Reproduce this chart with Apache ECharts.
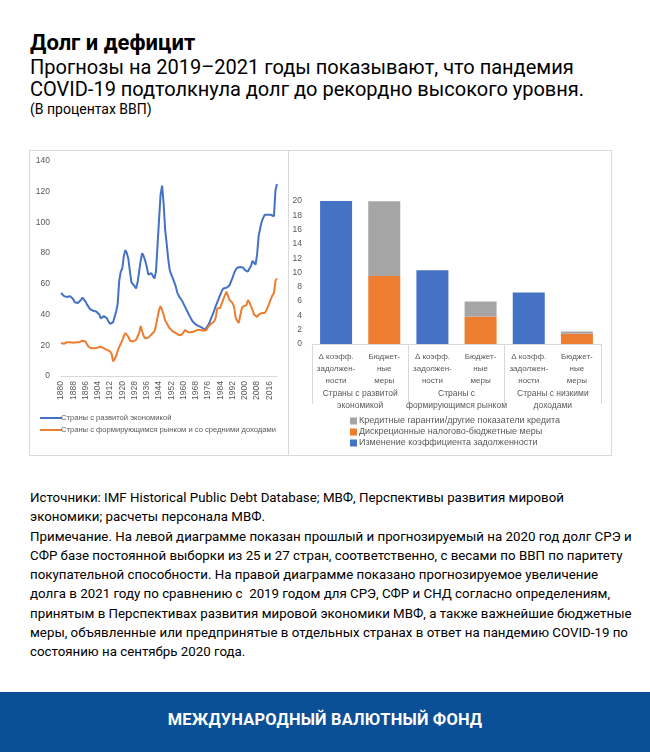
<!DOCTYPE html>
<html><head><meta charset="utf-8">
<script src="https://cdn.jsdelivr.net/npm/echarts@6/dist/echarts.min.js"></script>
<style>
html,body{margin:0;padding:0;background:#fff;width:650px;height:752px;overflow:hidden;font-family:Roboto,"Noto Sans",sans-serif;}
.t{position:absolute;left:30px;color:#000;white-space:nowrap;}
#title{top:30px;font-size:22px;font-weight:bold;line-height:26px;}
#sub{top:56px;font-size:20px;line-height:22px;}
#unit{top:100px;font-size:14px;line-height:18px;}
#notes{top:488px;font-size:13.3px;line-height:19.25px;}
.panel{position:absolute;border:1px solid #d9d9d9;box-sizing:border-box;}
#footer{position:absolute;left:0;top:692px;width:650px;height:60px;background:#0b4f96;color:#fff;font-weight:bold;font-size:16.4px;letter-spacing:0.2px;text-align:center;line-height:56px;}
#chart{position:absolute;left:0;top:0;width:650px;height:752px;}
</style></head>
<body>
<div class="t" id="title">Долг и дефицит</div>
<div class="t" id="sub">Прогнозы на 2019–2021 годы показывают, что пандемия<br>COVID-19 подтолкнула долг до рекордно высокого уровня.</div>
<div class="t" id="unit">(В процентах ВВП)</div>
<div class="panel" style="left:29px;top:150px;width:260px;height:306px;"></div>
<div class="panel" style="left:288px;top:150px;width:324px;height:306px;"></div>
<div class="t" id="notes">Источники: IMF Historical Public Debt Database; МВФ, Перспективы развития мировой<br>экономики; расчеты персонала МВФ.<br>Примечание. На левой диаграмме показан прошлый и прогнозируемый на 2020 год долг СРЭ и<br>СФР базе постоянной выборки из 25 и 27 стран, соответственно, с весами по ВВП по паритету<br>покупательной способности. На правой диаграмме показано прогнозируемое увеличение<br>долга в 2021 году по сравнению с&nbsp; 2019 годом для СРЭ, СФР и СНД согласно определениям,<br>принятым в Перспективах развития мировой экономики МВФ, а также важнейшие бюджетные<br>меры, объявленные или предпринятые в отдельных странах в ответ на пандемию COVID-19 по<br>состоянию на сентябрь 2020 года.</div>
<div id="footer">МЕЖДУНАРОДНЫЙ ВАЛЮТНЫЙ ФОНД</div>
<div id="chart"></div>
<script>
// ---- Left chart data (1880–2021, % of GDP)
var years = [];
for (var y = 1880; y <= 2021; y++) years.push(String(y));
var advancedName = 'Страны с развитой экономикой';
var emergingName = 'Страны с формирующимся рынком и со средними доходами';
var advanced = [
54,55,52,51.5,51.5,52,52,52.5,50,48,
48,47.5,48,49.5,51,50,48.5,46.5,45,43.5,
43,42.5,42,42,41,40,37.5,38.5,39,38,
37.5,35.5,34,33.5,35,38.5,42,47,62,68,
70,78,82,80,76,68,61,60,58.5,57,
61,68,75,80,78,75,71,66,66,67,
65,63.5,68,85,102,118,124,112,95,86,
76,69,66,63.5,61,58,54,52,50.5,49,
47,45,43,41,39,37,35.5,34.5,33.5,33,
32.5,32,31.5,31,30,31.5,33,35,37.5,40,
42.5,45.5,48,50.5,53,55.5,57,58,57.5,58,
59,60,64,67,69,70.5,71,71,70.5,70.5,
69,68,68,70,71.5,75,74,72.5,79,91,
96,100.5,103,105,105.5,105,105,105,104,104,
121,125];
var emerging = [
21.5,22,21,21.5,22,23,22,22,21.7,22,
22,22,22,22.5,23,24,22.5,20.5,19,18.5,
18,18,18,18,18.5,19.5,19,18,18,17.5,
17,16.5,16,14.5,9.5,11,13,16.5,19,21,
23,26,28,27,25.5,23,22,22.5,23,23.5,
24.5,28,32.5,29,26,24.5,24,25,26,27,
27.5,29,33,38,43,45.5,46,40,36,34.5,
32.5,31,30,29,28.5,28,27,26.5,26.5,27,
27.5,30,30.5,28.5,28.5,28.5,29,29,29.5,30,
30,30,30,29.5,28.5,30,32,33,34,35,
35.5,38,44,45,44.5,45,50,52.5,55,55.5,
49.5,48.5,47.5,45,38,36,34.5,34,44,45.5,
45,46,49.5,48,45.5,43,40,39.5,38.5,40,
41,41,40.5,41,42.5,45,47.5,50,52.5,54,
62,63.5];
var leftYTicks = {min: 0, max: 140, interval: 20};

// ---- Right chart data (change 2019–2021, % of GDP)
var subCategories = ['Δ коэфф.\nзадолжен-\nности', 'Бюджет-\nные\nмеры', 'Δ коэфф.\nзадолжен-\nности', 'Бюджет-\nные\nмеры', 'Δ коэфф.\nзадолжен-\nности', 'Бюджет-\nные\nмеры'];
var groups = ['Страны с развитой\nэкономикой', 'Страны с\nформирующимся рынком', 'Страны с низкими\nдоходами'];
var debtChangeName = 'Изменение коэффициента задолженности';
var discretionaryName = 'Дискреционные налогово-бюджетные меры';
var creditName = 'Кредитные гарантии/другие показатели кредита';
var debtChange = [20.0, '-', 10.3, '-', 7.2, '-'];
var discretionary = ['-', 9.5, '-', 3.85, '-', 1.45];
var credit = ['-', 10.45, '-', 2.1, '-', 0.3];
var rightYTicks = {min: 0, max: 20, interval: 2};

var BLUE = '#4472c4', ORANGE = '#ed7d31', GRAY = '#a5a5a5', TXT = '#595959', AX = '#d9d9d9';
var FONT = '"Liberation Sans", Arial, sans-serif';

var chart = echarts.init(document.getElementById('chart'), null, {renderer: 'canvas'});
chart.setOption({
  backgroundColor: 'transparent',
  animation: false,
  textStyle: {fontFamily: FONT},
  grid: [
    {left: 61, top: 161, width: 216, height: 215},
    {left: 312, top: 201, width: 289, height: 143}
  ],
  legend: [
    {
      data: [advancedName, emergingName],
      orient: 'vertical', left: 35, top: 408, itemGap: 2,
      icon: 'rect', itemWidth: 22, itemHeight: 2,
      textStyle: {fontSize: 7.6, color: TXT, fontFamily: FONT, padding: [0, 0, 0, -6], lineHeight: 10}
    },
    {
      data: [creditName, discretionaryName, debtChangeName],
      orient: 'vertical', left: 345, top: 411, itemGap: 1,
      icon: 'rect', itemWidth: 7, itemHeight: 7,
      textStyle: {fontSize: 9, color: TXT, fontFamily: FONT, padding: [0, 0, 0, -3], lineHeight: 10}
    }
  ],
  xAxis: [
    {
      gridIndex: 0, type: 'category', data: years, boundaryGap: false,
      axisLine: {lineStyle: {color: AX}}, axisTick: {show: false},
      axisLabel: {rotate: 90, interval: 7, fontSize: 8.5, color: TXT, margin: 5}
    },
    {
      gridIndex: 1, type: 'category', data: subCategories,
      axisLine: {lineStyle: {color: AX}}, axisTick: {show: false},
      axisLabel: {interval: 0, fontSize: 8, color: TXT, margin: 7, lineHeight: 12}
    },
    {
      gridIndex: 1, type: 'category', data: groups, position: 'bottom',
      axisLine: {show: false},
      axisTick: {show: true, length: 60, lineStyle: {color: AX}},
      axisLabel: {interval: 0, fontSize: 8.5, color: TXT, margin: 44, lineHeight: 12}
    }
  ],
  yAxis: [
    {
      gridIndex: 0, type: 'value', min: leftYTicks.min, max: leftYTicks.max, interval: leftYTicks.interval,
      axisLine: {show: false}, axisTick: {show: false}, splitLine: {show: false},
      axisLabel: {fontSize: 8.5, color: TXT, margin: 11}
    },
    {
      gridIndex: 1, type: 'value', min: rightYTicks.min, max: rightYTicks.max, interval: rightYTicks.interval,
      axisLine: {show: false}, axisTick: {show: false}, splitLine: {show: false},
      axisLabel: {fontSize: 8.5, color: TXT, margin: 10}
    }
  ],
  series: [
    {name: advancedName, type: 'line', xAxisIndex: 0, yAxisIndex: 0, data: advanced,
     showSymbol: false, lineStyle: {color: BLUE, width: 2}, itemStyle: {color: BLUE}},
    {name: emergingName, type: 'line', xAxisIndex: 0, yAxisIndex: 0, data: emerging,
     showSymbol: false, lineStyle: {color: ORANGE, width: 2}, itemStyle: {color: ORANGE}},
    {name: debtChangeName, type: 'bar', xAxisIndex: 1, yAxisIndex: 1, stack: 'a', data: debtChange,
     barWidth: 32, itemStyle: {color: BLUE}},
    {name: discretionaryName, type: 'bar', xAxisIndex: 1, yAxisIndex: 1, stack: 'a', data: discretionary,
     barWidth: 32, itemStyle: {color: ORANGE}},
    {name: creditName, type: 'bar', xAxisIndex: 1, yAxisIndex: 1, stack: 'a', data: credit,
     barWidth: 32, itemStyle: {color: GRAY}}
  ]
});
</script>
</body></html>
